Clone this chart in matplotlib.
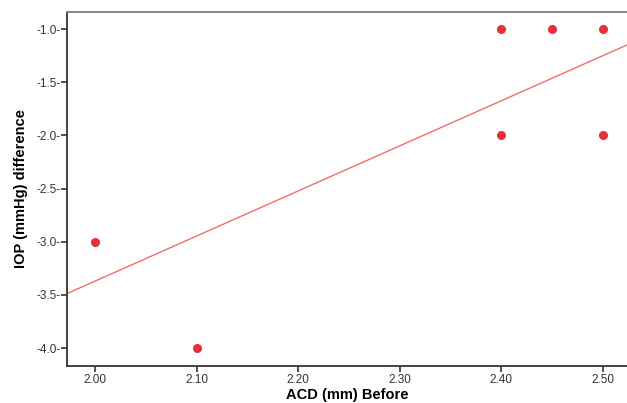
import matplotlib.pyplot as plt
import numpy as np

plt.rcParams['font.family'] = ['Liberation Sans', 'DejaVu Sans']

# data
acd_before = [2.00, 2.10, 2.40, 2.40, 2.45, 2.50, 2.50]
iop_diff = [-3.0, -4.0, -1.0, -2.0, -1.0, -1.0, -2.0]
fit_slope = 4.24
fit_intercept = -11.85
x_ticks = [2.00, 2.10, 2.20, 2.30, 2.40, 2.50]
y_ticks = [-1.0, -1.5, -2.0, -2.5, -3.0, -3.5, -4.0]

fig = plt.figure(figsize=(6.27, 4.03), dpi=100)
W, H = 627, 403
ax = fig.add_axes([66.7 / W, 1 - 366 / H, (627 - 66.7) / W, (366 - 12) / H])

xlim = (1.972, 2.524)
ax.set_xlim(xlim)
ax.set_ylim(-4.169, -0.838)

# regression line
xs = np.array(xlim)
ax.plot(xs, fit_intercept + fit_slope * xs, color='#f26b6b', lw=1.0, zorder=2)

# points
ax.plot(acd_before, iop_diff, 'o', color='#e8303a', ms=6.5, mew=0, zorder=3)

ax.set_xticks(x_ticks)
ax.set_xticklabels([f'{v:.2f}' for v in x_ticks])
ax.set_yticks(y_ticks)
ax.set_yticklabels([f'{v:.1f}-' for v in y_ticks])
ax.tick_params(axis='both', labelsize=8.5, length=4, width=1.2, color='#333333',
               labelcolor='#333333')
ax.tick_params(axis='y', pad=0.5)
ax.tick_params(axis='x', pad=2)

for side in ['left', 'bottom']:
    ax.spines[side].set_color('#333333')
    ax.spines[side].set_linewidth(1.3)
ax.spines['top'].set_color('#808080')
ax.spines['top'].set_linewidth(1.3)
ax.spines['right'].set_visible(False)

ax.set_xlabel('ACD (mm) Before', fontsize=10.5, fontweight='bold', labelpad=1)
ax.set_ylabel('IOP (mmHg) difference', fontsize=10.5, fontweight='bold', labelpad=6)

fig.savefig('out.png', dpi=100)
